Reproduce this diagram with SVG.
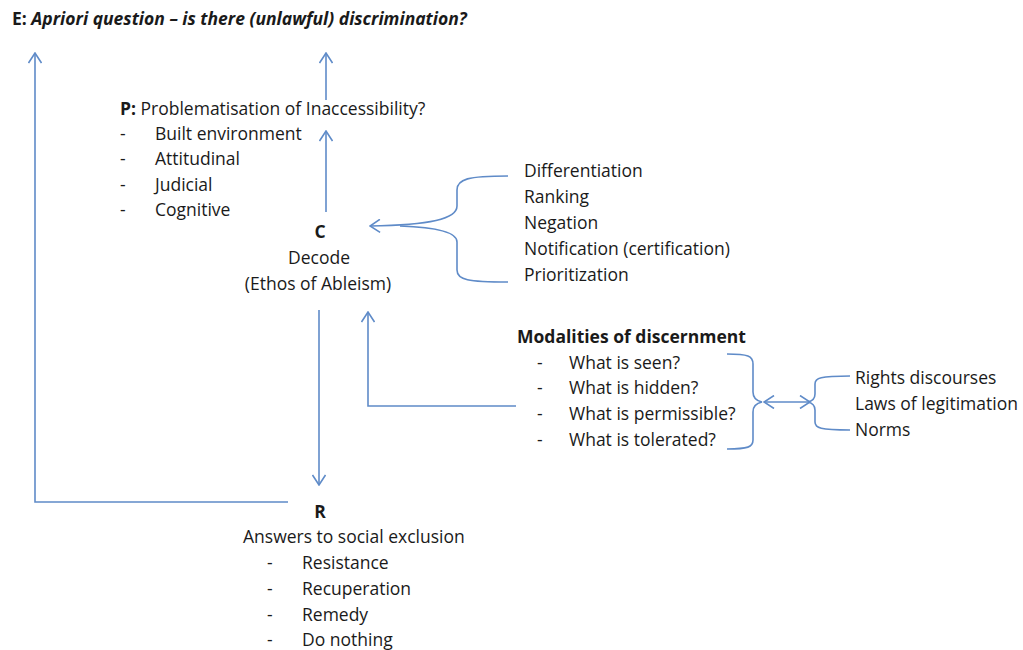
<svg xmlns="http://www.w3.org/2000/svg" width="1023" height="650" viewBox="0 0 1023 650">
<style>
text{font-family:"Open Sans","Liberation Sans",sans-serif;font-size:17.5px;fill:#1a1a1a}
.b{font-weight:bold}
.c{fill:none;stroke:#5f8bc8;stroke-width:1.6}
</style>
<defs>
<marker id="a" viewBox="0 0 12 14" refX="11" refY="7" markerWidth="12" markerHeight="14" markerUnits="userSpaceOnUse" orient="auto-start-reverse">
<path d="M1,0.5 L11,7 L1,13.5" fill="none" stroke="#5f8bc8" stroke-width="1.6"/>
</marker>
</defs>
<rect width="1023" height="650" fill="#fff"/>
<g id="connectors">
<path class="c" d="M288,502 H35 V53" marker-end="url(#a)"/>
<path class="c" d="M326,100 V53" marker-end="url(#a)"/>
<path class="c" d="M326,212 V131" marker-end="url(#a)"/>
<path class="c" d="M319,310 V485" marker-end="url(#a)"/>
<path class="c" d="M516,406 H368 V312" marker-end="url(#a)"/>
<path class="c" d="M508,176 C468,176 457,179 457,190 V206 C457,219 430,225 370,226" marker-end="url(#a)"/>
<path class="c" d="M508,282 C468,282 457,280 457,270 V242 C457,231 430,227 400,226"/>
<path class="c" d="M727,354 C748,354 753,356 753,364 V392 C753,398 757,401 762,402 C757,403 753,406 753,412 V440 C753,447 748,449 727,449"/>
<path class="c" d="M850,376 C820,376 815,378 815,384 V394 C815,398 812,401 808,402 C812,403 815,406 815,410 V422 C815,428 820,430 850,430"/>
<path class="c" d="M764,402 H810" marker-start="url(#a)" marker-end="url(#a)"/>
</g>
<g id="E">
<text x="12" y="25" class="b">E: <tspan font-style="italic">Apriori question – is there (unlawful) discrimination?</tspan></text>
</g>
<g id="P">
<text x="120" y="115"><tspan class="b">P:</tspan> Problematisation of Inaccessibility?</text>
<text x="120" y="140">-</text><text x="155" y="140">Built environment</text>
<text x="120" y="165">-</text><text x="155" y="165">Attitudinal</text>
<text x="120" y="191">-</text><text x="155" y="191">Judicial</text>
<text x="120" y="216">-</text><text x="155" y="216">Cognitive</text>
</g>
<g id="C">
<text x="320" y="238" class="b" text-anchor="middle">C</text>
<text x="319" y="264" text-anchor="middle">Decode</text>
<text x="318" y="290" text-anchor="middle">(Ethos of Ableism)</text>
</g>
<g id="codes">
<text x="524" y="177">Differentiation</text>
<text x="524" y="203">Ranking</text>
<text x="524" y="229">Negation</text>
<text x="524" y="255">Notification (certification)</text>
<text x="524" y="281">Prioritization</text>
</g>
<g id="M">
<text x="517" y="343" class="b">Modalities of discernment</text>
<text x="537" y="369">-</text><text x="569" y="369">What is seen?</text>
<text x="537" y="394">-</text><text x="569" y="394">What is hidden?</text>
<text x="537" y="420">-</text><text x="569" y="420">What is permissible?</text>
<text x="537" y="446">-</text><text x="569" y="446">What is tolerated?</text>
</g>
<g id="rights">
<text x="855" y="384">Rights discourses</text>
<text x="855" y="410">Laws of legitimation</text>
<text x="855" y="436">Norms</text>
</g>
<g id="R">
<text x="320" y="518" class="b" text-anchor="middle">R</text>
<text x="243" y="543">Answers to social exclusion</text>
<text x="267" y="569">-</text><text x="302" y="569">Resistance</text>
<text x="267" y="595">-</text><text x="302" y="595">Recuperation</text>
<text x="267" y="621">-</text><text x="302" y="621">Remedy</text>
<text x="267" y="646">-</text><text x="302" y="646">Do nothing</text>
</g>
</svg>
